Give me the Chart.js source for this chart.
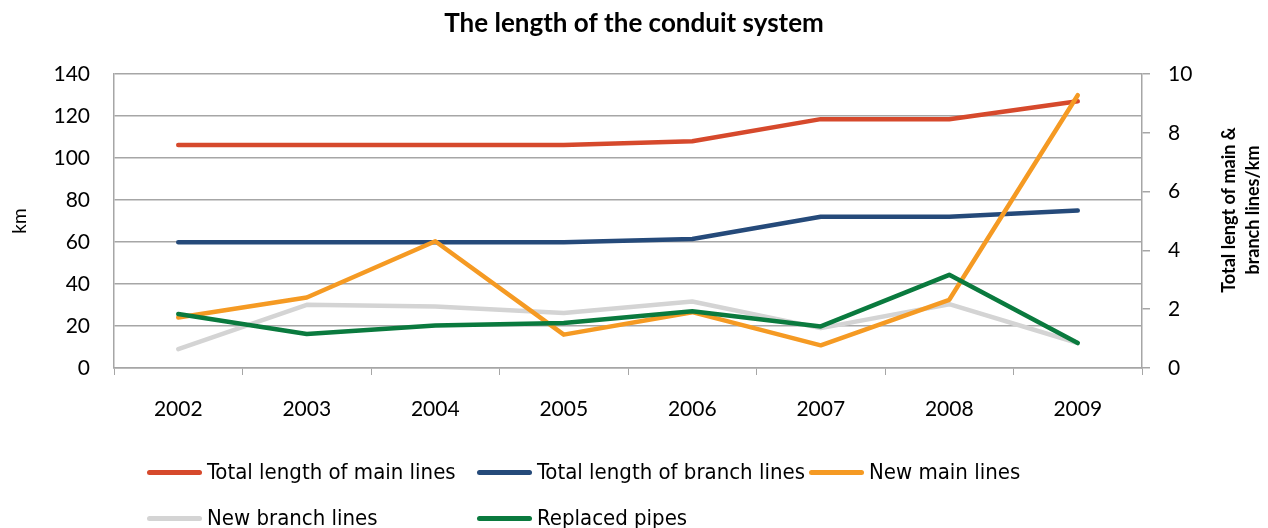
<!DOCTYPE html>
<html>
<head>
<meta charset="utf-8">
<title>The length of the conduit system</title>
<script src="https://cdn.jsdelivr.net/npm/chart.js@4/dist/chart.umd.min.js"></script>
<style>
  html, body { margin: 0; padding: 0; background: #fff; }
  #wrap { position: relative; width: 1268px; height: 528px; overflow: hidden; }
  #legend { position: absolute; left: 0; top: 0; width: 1268px; height: 528px; pointer-events: none; }
  .item { position: absolute; display: flex; align-items: center; white-space: nowrap;
          font-family: "Liberation Sans Narrow", "DejaVu Sans Condensed", sans-serif;
          font-size: 22px; color: #000; line-height: 26px; }
  .swatch { width: 55px; height: 5px; border-radius: 3px; margin-right: 5px; }
</style>
</head>
<body>
<div id="wrap">
  <canvas id="conduitChart" width="1268" height="528"></canvas>
  <div id="legend"></div>
</div>
<script>
// categories
const years = ["2002", "2003", "2004", "2005", "2006", "2007", "2008", "2009"];

// totals, read against the right axis
const mainTotal   = [7.59, 7.59, 7.59, 7.59, 7.72, 8.47, 8.47, 9.08];
const branchTotal = [4.28, 4.28, 4.28, 4.28, 4.39, 5.15, 5.15, 5.36];

// yearly figures, read against the left axis (km)
const newMain   = [24.1, 33.6, 60.4, 15.9, 26.6, 10.8, 32.5, 130.0];
const newBranch = [9.0, 30.1, 29.3, 26.2, 31.7, 19.0, 30.4, 11.9];
const replaced  = [25.7, 16.2, 20.3, 21.4, 27.0, 19.8, 44.4, 11.9];

// tick labels
const leftTicks  = [0, 20, 40, 60, 80, 100, 120, 140];
const rightTicks = [0, 2, 4, 6, 8, 10];

const titleText = "The length of the conduit system";
const rightTitleLines = ["Total lengt of main &", "branch lines/km"];

const gridColor = "#a6a6a6";
const tickFont = { family: "Lato", size: 21 };

// right axis title reads bottom to top, so draw it here
const rightTitle = {
    id: "rightTitle",
    afterDraw(chart) {
        let ctx = chart.ctx;
        ctx.save();
        ctx.translate(1229, 210);
        ctx.rotate(-Math.PI / 2);
        ctx.font = "bold 18px Lato";
        ctx.fillStyle = "#000";
        ctx.textAlign = "center";
        ctx.textBaseline = "middle";
        ctx.fillText(rightTitleLines[0], 0, 0);
        ctx.fillText(rightTitleLines[1], 0, 24);
        ctx.restore();
    }
};

function series(label, data, color, axis, order) {
    return {
        label: label,
        data: data,
        yAxisID: axis,
        borderColor: color,
        backgroundColor: color,
        borderWidth: 4.5,
        borderCapStyle: "round",
        borderJoinStyle: "round",
        pointRadius: 0,
        tension: 0,
        fill: false,
        order: order
    };
}

let ctx = document.getElementById("conduitChart").getContext("2d");
let chart = new Chart(ctx, {
    type: "line",
    data: {
        labels: years,
        datasets: [
            series("Total length of main lines", mainTotal, "#d6492c", "y1", 5),
            series("Total length of branch lines", branchTotal, "#254a7a", "y1", 4),
            series("New main lines", newMain, "#f59a23", "y", 2),
            series("New branch lines", newBranch, "#d4d4d4", "y", 3),
            series("Replaced pipes", replaced, "#0a7a3e", "y", 1)
        ]
    },
    options: {
        responsive: false,
        animation: false,
        events: [],
        layout: { padding: { left: 0, right: 0, top: 0, bottom: 100 } },
        plugins: {
            legend: { display: false },
            tooltip: { enabled: false },
            title: {
                display: true,
                text: titleText,
                color: "#000",
                font: { family: "Lato", size: 26, weight: "bold" },
                padding: { top: 8, bottom: 35 }
            }
        },
        scales: {
            x: {
                offset: true,
                grid: { drawOnChartArea: false, drawTicks: true, tickLength: 7, color: gridColor, offset: true },
                border: { display: true, color: gridColor, width: 1.5 },
                ticks: { color: "#000", font: tickFont, padding: 22, maxRotation: 0 },
                afterFit(scale) { scale.height = 60; }
            },
            y: {
                position: "left",
                min: 0,
                max: 140,
                afterBuildTicks(scale) { scale.ticks = leftTicks.map(v => ({ value: v })); },
                grid: { color: gridColor, lineWidth: 1.5, drawTicks: false },
                border: { display: true, color: gridColor, width: 1.5 },
                ticks: { color: "#000", font: tickFont, padding: 24 },
                title: { display: true, text: "km", color: "#000", font: { family: "Lato", size: 19 }, padding: { top: 8 } },
                afterFit(scale) { scale.width = 114; }
            },
            y1: {
                position: "right",
                min: 0,
                max: 10,
                afterBuildTicks(scale) { scale.ticks = rightTicks.map(v => ({ value: v })); },
                grid: { drawOnChartArea: false, drawTicks: true, tickLength: 8, color: gridColor, lineWidth: 1.5 },
                border: { display: true, color: gridColor, width: 1.5 },
                ticks: { color: "#000", font: tickFont, padding: 18 },
                afterFit(scale) { scale.width = 126; }
            }
        }
    },
    plugins: [rightTitle]
});

// legend laid out in columns like the original
const legendCols = [147, 477, 809];
const legendRows = [472, 518];
let legend = document.getElementById("legend");
chart.data.datasets.forEach(function (ds, i) {
    let item = document.createElement("div");
    item.className = "item";
    item.style.left = legendCols[i % 3] + "px";
    item.style.top = (legendRows[Math.floor(i / 3)] - 13) + "px";
    let sw = document.createElement("span");
    sw.className = "swatch";
    sw.style.background = ds.borderColor;
    item.appendChild(sw);
    item.appendChild(document.createTextNode(ds.label));
    legend.appendChild(item);
});
</script>
</body>
</html>
